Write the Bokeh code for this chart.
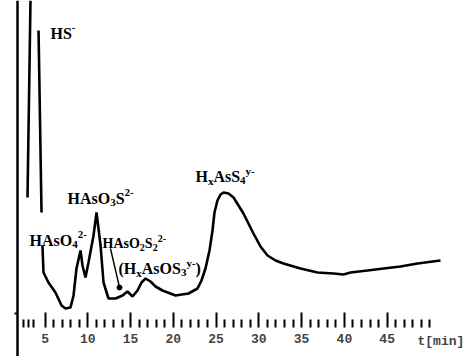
from bokeh.plotting import figure
from bokeh.models import Range1d, LinearAxis, FixedTicker, Label, ColumnDataSource
from bokeh.core.properties import value
from bokeh.embed import file_html
from bokeh.resources import INLINE

# ---- data (retention time in min, detector signal in arbitrary units) ----
hs_up_t = [2.95, 3.30]
hs_up_s = [121, 318]
hs_down_t = [4.24, 4.59]
hs_down_s = [288, 106]

trace_t = [4.70, 4.82, 5.40, 6.22, 6.93, 7.39, 7.98, 8.33, 8.68, 9.15, 9.38, 9.73,
           10.08, 10.67, 11.02, 11.49, 11.84, 12.42, 13.24, 14.06, 14.64, 15.23,
           15.81, 16.28, 16.75, 17.33, 17.92, 18.73, 20.25, 21.77, 22.83, 23.29,
           23.76, 24.23, 24.58, 24.81, 25.16, 25.52, 25.87, 26.45, 27.04, 28.20,
           29.37, 30.19, 31.01, 31.95, 32.88, 34.87, 36.86, 38.73, 39.90, 40.72,
           42.70, 44.57, 46.56, 48.55, 51.24]
trace_s = [73, 46, 36, 26, 13, 10, 11, 23, 50, 68, 53, 41,
           56, 83, 106, 73, 36, 20, 20, 23, 27, 22,
           28, 36, 40, 37, 32, 28, 23, 25, 30, 38,
           50, 68, 88, 106, 118, 124, 126, 125, 121, 105,
           85, 72, 63, 58, 55, 50, 46, 45, 44, 46,
           48, 50, 52, 55, 58]

# species labels: pieces of (text, kind) with kind n=normal, b=subscript, p=superscript
species = [
    [("HS", "n"), ("-", "p")],
    [("HAsO", "n"), ("4", "b"), ("2-", "p")],
    [("HAsO", "n"), ("3", "b"), ("S", "n"), ("2-", "p")],
    [("HAsO", "n"), ("2", "b"), ("S", "n"), ("2", "b"), ("2-", "p")],
    [("(H", "n"), ("x", "b"), ("AsOS", "n"), ("3", "b"), ("y-", "p"), (")", "n")],
    [("H", "n"), ("x", "b"), ("AsS", "n"), ("4", "b"), ("y-", "p")],
]
species_t = [5.64, 3.18, 7.63, 11.72, 13.59, 22.59]
species_s = [285, 78, 120, 75, 50, 142]
species_size = [16, 16, 16, 14, 16, 16]

pointer_t = [12.65, 13.71]
pointer_s = [70, 31]

major_ticks = [5, 10, 15, 20, 25, 30, 35, 40, 45]
minor_ticks = [2.5, 3.1, 3.7] + [t for t in range(6, 51) if t % 5 != 0 or t == 50]

# ---- figure ----
p = figure(width=475, height=356, output_backend="svg", toolbar_location=None,
           x_axis_type=None, y_axis_type=None,
           x_range=Range1d(-0.207, 55.33), y_range=Range1d(-38, 318),
           min_border=0, outline_line_color=None)
p.background_fill_color = "white"
p.border_fill_color = "white"

nan = float("nan")
line_t = hs_up_t + [nan] + hs_down_t + [nan] + trace_t
line_s = hs_up_s + [nan] + hs_down_s + [nan] + trace_s
p.line(line_t, line_s, line_color="black", line_width=2.6)

p.line(pointer_t, pointer_s, line_color="black", line_width=1.4)
p.scatter(pointer_t[-1:], pointer_s[-1:], size=5, color="black")

# Times-Bold-metric advance widths (em) for laying out formula pieces
W = {"H": .778, "S": .556, "A": .722, "s": .389, "O": .778, "(": .333, ")": .333,
     "x": .5, "y": .5, "-": .333, "2": .5, "3": .5, "4": .5}
xs, ys, texts, xo, yo, fs = [], [], [], [], [], []
for t0, s0, parts, base in zip(species_t, species_s, species, species_size):
    small = round(base * 0.69)
    off = 0.0
    for txt, kind in parts:
        size = base if kind == "n" else small
        xs.append(t0); ys.append(s0); texts.append(txt)
        xo.append(off)
        yo.append({"n": 0, "b": round(base * 0.25), "p": -round(base * 0.38)}[kind])
        fs.append(f"{size}px")
        off += sum(W.get(c, .5) for c in txt) * size
src = ColumnDataSource(dict(x=xs, y=ys, text=texts, xo=xo, yo=yo, fs=fs))
p.text("x", "y", text="text", x_offset="xo", y_offset="yo", text_font_size="fs",
       source=src, text_font=value("Liberation Serif"), text_font_style="bold",
       text_baseline="alphabetic", text_align="left", text_color="black")

xaxis = LinearAxis(fixed_location=-9,
                   ticker=FixedTicker(ticks=major_ticks, minor_ticks=minor_ticks),
                   axis_line_color=None,
                   major_tick_in=15, major_tick_out=0,
                   minor_tick_in=8, minor_tick_out=0,
                   major_tick_line_width=2, minor_tick_line_width=2,
                   major_label_text_font="Liberation Mono",
                   major_label_text_font_style="bold",
                   major_label_text_font_size="13px",
                   major_label_standoff=6)
p.add_layout(xaxis, "below")

yaxis = LinearAxis(fixed_location=1.78, ticker=FixedTicker(ticks=[5]),
                   axis_line_width=2.5, major_tick_out=3, major_tick_in=0,
                   minor_tick_out=0, minor_tick_in=0, major_tick_line_width=2,
                   major_label_text_color=None)
p.add_layout(yaxis, "left")

p.add_layout(Label(x=48.55, y=-9, y_offset=-6, text="t[min]",
                   text_font="Liberation Mono", text_font_style="bold",
                   text_font_size="13px", text_baseline="top", text_align="left"))

open("out.html", "w").write(file_html(p, INLINE))
